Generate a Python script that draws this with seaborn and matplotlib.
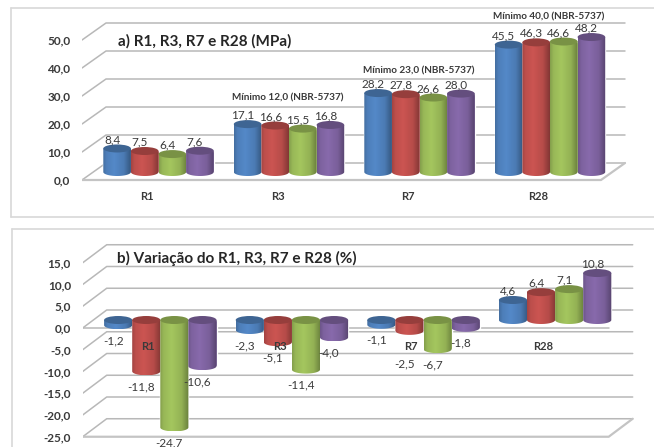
import numpy as np
import pandas as pd
import matplotlib
matplotlib.use("Agg")
import matplotlib.pyplot as plt
import seaborn as sns
from matplotlib.lines import Line2D
from matplotlib.patches import Ellipse, PathPatch
from matplotlib.path import Path

# DATA
idades = ["R1", "R3", "R7", "R28"]
series = ["s1", "s2", "s3", "s4"]
mpa_s1 = [8.4, 17.1, 28.2, 45.5]
mpa_s2 = [7.5, 16.6, 27.8, 46.3]
mpa_s3 = [6.4, 15.5, 26.6, 46.6]
mpa_s4 = [7.6, 16.8, 28.0, 48.2]
var_s1 = [-1.2, -2.3, -1.1, 4.6]
var_s2 = [-11.8, -5.1, -2.5, 6.4]
var_s3 = [-24.7, -11.4, -6.7, 7.1]
var_s4 = [-10.6, -4.0, -1.8, 10.8]
minimos = ["", "Mínimo 12,0 (NBR-5737)", "Mínimo 23,0 (NBR-5737)", "Mínimo 40,0 (NBR-5737)"]
ticks_a = [0, 10, 20, 30, 40, 50]
ticks_b = [-25, -20, -15, -10, -5, 0, 5, 10, 15]
cores = ["#4f81bd", "#c0504d", "#9bbb59", "#8064a2"]

# SETTINGS
W, H = 654, 447
GRID = "#b8b8b8"
TEXTO = "#3a3a3a"

sns.set_theme(style="white")
plt.rcParams["font.family"] = ["Lato", "DejaVu Sans"]


def long_table(cols):
    return pd.DataFrame({
        "idade": idades * 4,
        "serie": [s for s in series for _ in idades],
        "valor": [v for c in cols for v in c],
    })


def cylinder(ax, bar, cor, ys):
    # turn a flat seaborn bar into a shaded cylinder
    x, w = bar.get_x(), bar.get_width()
    top = max(bar.get_y(), bar.get_y() + bar.get_height())
    low = min(bar.get_y(), bar.get_y() + bar.get_height())
    cx = x + w / 2
    hh = 4 / ys
    t = np.linspace(0, np.pi, 40)
    px = np.r_[cx + w / 2 * np.cos(t), x, x + w, cx + w / 2]
    py = np.r_[low - hh * np.sin(t), top, top, low]
    body = PathPatch(Path(np.c_[px, py]), fc="none", ec="none", transform=ax.transData)
    ax.add_patch(body)
    base = np.array(matplotlib.colors.to_rgb(cor))
    shade = np.interp(np.linspace(0, 1, 60), [0, .12, .4, .75, 1], [.85, .98, 1.06, .95, .68])
    img = np.clip(base[None, :] * shade[:, None], 0, 1)[None, :, :]
    im = ax.imshow(img, extent=(x, x + w, low - hh, top), aspect="auto", zorder=3 + cx * .01)
    im.set_clip_path(body)
    ax.add_patch(Ellipse((cx, top), w, 2 * hh, fc=base * .78, ec="none", zorder=3.5 + cx * .01))


def panel(ax, cols, ticks, x0, xs, y0, ys, front, back, box, bar_px, grid_right, back_x=24):
    left, right, up, down = box
    sns.barplot(data=long_table(cols), x="idade", y="valor", hue="serie", palette=cores, order=idades,
                hue_order=series, width=4 * bar_px / xs, gap=0, errorbar=None, legend=False, ax=ax,
                saturation=1, zorder=2)
    xlim = ((left - x0) / xs, (right - x0) / xs)
    dx_back = back_x / xs

    # walls and grid: front edge on the left, back edge runs to the right
    x_end_back = (grid_right - x0) / xs
    for v in ticks:
        ax.plot([xlim[0], xlim[0] + dx_back, x_end_back], [v - front, v + back, v + back],
                color=GRID, lw=1.1, zorder=1)
    low = ticks[0]
    ax.plot([xlim[0], x_end_back - dx_back, x_end_back], [low - front, low - front, low + back],
            color="#c4c4c4", lw=1.6, zorder=1)
    if low != 0:
        ax.plot([xlim[0], x_end_back - dx_back], [-front, -front], color=GRID, lw=1.1, zorder=1)

    for cont, cor in zip(ax.containers, cores):
        for bar in cont:
            cylinder(ax, bar, cor, ys)

    ax.set_xlim(xlim)
    ax.set_ylim((y0 - down) / ys, (y0 - up) / ys)
    ax.set_yticks([v - front for v in ticks])
    ax.set_yticklabels([f"{v:.1f}".replace(".", ",") for v in ticks], fontsize=8.5,
                       fontweight="bold", color=TEXTO)
    ax.tick_params(axis="y", length=0, pad=8.5)
    ax.set_xticks([])
    ax.set_xlabel("")
    ax.set_ylabel("")
    sns.despine(ax=ax, left=True, bottom=True)


def bar_labels(ax, extra=None):
    for cont in ax.containers:
        for bar in cont:
            v = bar.get_height() if bar.get_y() == 0 else bar.get_y() + bar.get_height()
            cx = bar.get_x() + bar.get_width() / 2
            dy = 9 if v > 0 else -15.5
            if extra and v in extra:
                dy += extra[v]
            ax.annotate(f"{v:.1f}".replace(".", ","), (cx, v), xytext=(-5, dy),
                        textcoords="offset pixels", ha="center", va="center",
                        fontsize=8.5, color=TEXTO, zorder=6)


fig = plt.figure(figsize=(W / 100, H / 100), dpi=100)


def add_axes(left, right, up, down):
    ax = fig.add_axes([left / W, 1 - down / H, (right - left) / W, (down - up) / H])
    ax.patch.set_alpha(0)
    return ax


# panel frames
for x, y1, y2 in [(10.5, 8, 217), (12, 229, 460)]:
    for xs_, ys_ in [([x, 670], [y1, y1]), ([x, x], [y1, y2]), ([x, 670], [y2, y2])]:
        fig.add_artist(Line2D([p / W for p in xs_], [1 - p / H for p in ys_], color="#d8d8d8", lw=1.2))

# a) MPa
cols_a = [mpa_s1, mpa_s2, mpa_s3, mpa_s4]
ax_a = add_axes(82, 640, 8, 217)
panel(ax_a, cols_a, ticks_a, 158.5, 130.5, 172, 2.8, 8 / 2.8, 9 / 2.8, (82, 640, 8, 217), 27.6, 625)
bar_labels(ax_a)
fig.text(118 / W, 1 - 41.5 / H, "a) R1, R3, R7 e R28 (MPa)", fontsize=11, fontweight="bold",
         color="#262626", ha="left", va="center")
for i, nome in enumerate(idades):
    fig.text((147 + 130.5 * i) / W, 1 - 197 / H, nome, fontsize=8, fontweight="bold", color=TEXTO,
             ha="center", va="center")
min_dy = [0, 26, 22.5, 20.5]
for i, txt in enumerate(minimos):
    if txt:
        top = max(c[i] for c in cols_a)
        ax_a.annotate(txt, (i, top), xytext=(-1, min_dy[i]), textcoords="offset pixels",
                      ha="center", va="center", fontsize=7.2, fontweight="bold", color=TEXTO, zorder=6)

# b) variacao
cols_b = [var_s1, var_s2, var_s3, var_s4]
ax_b = add_axes(82.7, 645, 229, 447)
panel(ax_b, cols_b, ticks_b, 160.3, 131.6, 320, 4.35, 8 / 4.35, 10 / 4.35, (82.7, 645, 229, 447), 28.1, 632.7)
bar_labels(ax_b, extra={-2.5: -18})
fig.text(117 / W, 1 - 258 / H, "b) Variação do R1, R3, R7 e R28 (%)", fontsize=11, fontweight="bold",
         color="#262626", ha="left", va="center")
for i, nome in enumerate(idades):
    fig.text((148 + 131.6 * i) / W, 1 - 347 / H, nome, fontsize=8, fontweight="bold", color=TEXTO,
             ha="center", va="center", zorder=10)

fig.savefig("out.png", dpi=100)
